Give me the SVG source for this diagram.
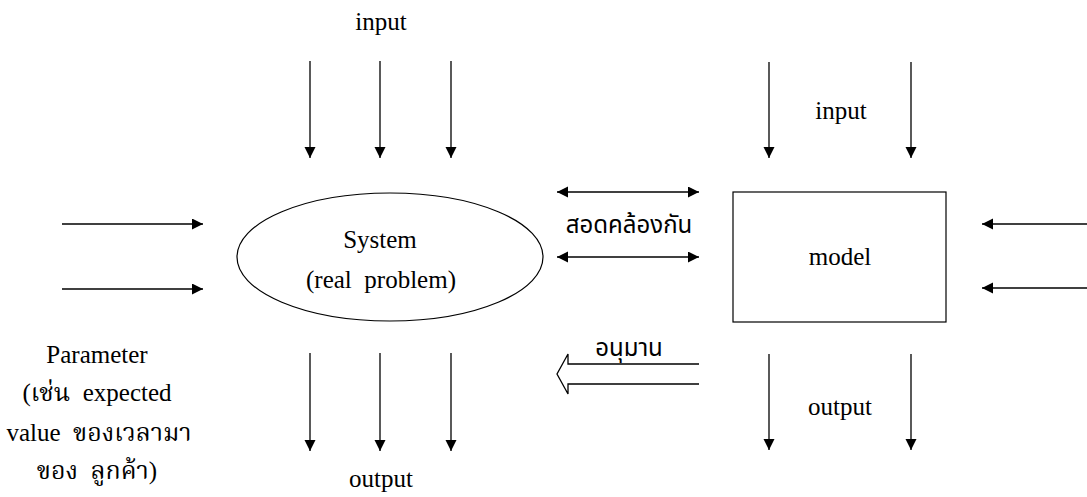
<svg xmlns="http://www.w3.org/2000/svg" width="1087" height="497" viewBox="0 0 1087 497">
<style>
.t{font-family:"Liberation Serif","Noto Serif Thai","Noto Sans Thai",serif;font-size:25px;fill:#000;text-anchor:middle}
.th{font-family:"Noto Sans Thai","Liberation Sans",sans-serif;font-size:24px;fill:#000;text-anchor:middle}
.c{stroke:#000;stroke-width:1.3;fill:none}
.a{marker-end:url(#ah)}
.d{marker-start:url(#ah);marker-end:url(#ah)}
</style>
<defs>
<marker id="ah" markerUnits="userSpaceOnUse" markerWidth="12" markerHeight="12" refX="11" refY="5.5" orient="auto-start-reverse">
<path d="M0,0 L11,5.5 L0,11 z" fill="#000"/>
</marker>
</defs>
<rect width="1087" height="497" fill="#fff"/>
<g id="system">
<ellipse cx="390" cy="257" rx="153" ry="64" fill="none" stroke="#000" stroke-width="1.2"/>
<text class="t" x="380" y="248">System</text>
<text class="t" x="381" y="288" xml:space="preserve">(real  problem)</text>
</g>
<g id="model">
<rect x="733" y="192" width="213" height="130" fill="none" stroke="#000" stroke-width="1.2"/>
<text class="t" x="840" y="265">model</text>
</g>
<g id="labels">
<text class="t" x="381" y="30">input</text>
<text class="t" x="381" y="487">output</text>
<text class="t" x="841" y="119">input</text>
<text class="t" x="840" y="415">output</text>
<text class="th" x="629" y="233">สอดคล้องกัน</text>
<text class="th" x="629" y="356">อนุมาน</text>
<text class="t" x="97" y="363">Parameter</text>
<text class="t" x="97" y="401" xml:space="preserve">(เช่น  expected</text>
<text class="t" x="99" y="441" xml:space="preserve">value  ของเวลามา</text>
<text class="t" x="97" y="479" xml:space="preserve">ของ  ลูกค้า)</text>
</g>
<g id="connectors">
<line class="c a" x1="310" y1="61" x2="310" y2="158"/>
<line class="c a" x1="380" y1="61" x2="380" y2="158"/>
<line class="c a" x1="451" y1="61" x2="451" y2="158"/>
<line class="c a" x1="310" y1="353" x2="310" y2="451"/>
<line class="c a" x1="380" y1="353" x2="380" y2="451"/>
<line class="c a" x1="451" y1="353" x2="451" y2="451"/>
<line class="c a" x1="62" y1="224" x2="203" y2="224"/>
<line class="c a" x1="62" y1="289" x2="203" y2="289"/>
<line class="c a" x1="769" y1="62" x2="769" y2="158"/>
<line class="c a" x1="911" y1="62" x2="911" y2="158"/>
<line class="c a" x1="769" y1="354" x2="769" y2="450"/>
<line class="c a" x1="911" y1="354" x2="911" y2="450"/>
<line class="c a" x1="1087" y1="224" x2="982" y2="224"/>
<line class="c a" x1="1087" y1="288" x2="982" y2="288"/>
<line class="c d" x1="557" y1="192" x2="699" y2="192"/>
<line class="c d" x1="557" y1="257" x2="699" y2="257"/>
<path class="c" d="M699,364 H568 V354 L557,374 L568,394 V384 H699"/>
</g>
</svg>
